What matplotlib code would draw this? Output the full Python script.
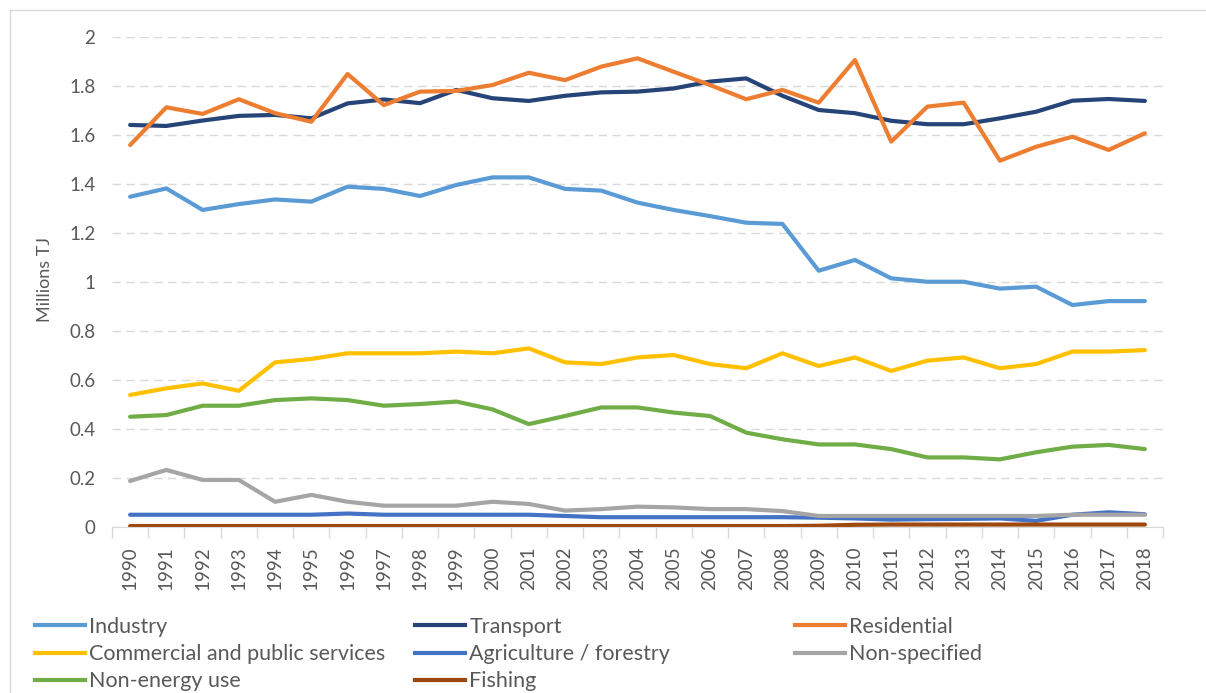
import matplotlib
matplotlib.use("Agg")
import matplotlib.pyplot as plt
from matplotlib.lines import Line2D
import numpy as np

years = list(range(1990, 2019))
industry = [1.348, 1.382, 1.294, 1.318, 1.337, 1.328, 1.389, 1.380, 1.351, 1.396, 1.427, 1.427, 1.380, 1.373,
            1.324, 1.294, 1.269, 1.242, 1.237, 1.046, 1.090, 1.015, 1.001, 1.001, 0.973, 0.981, 0.906, 0.922, 0.922]
transport = [1.641, 1.637, 1.659, 1.678, 1.682, 1.668, 1.729, 1.745, 1.730, 1.784, 1.750, 1.739, 1.760, 1.774,
             1.777, 1.790, 1.818, 1.831, 1.760, 1.702, 1.689, 1.658, 1.644, 1.644, 1.668, 1.695, 1.740, 1.747, 1.739]
residential = [1.559, 1.713, 1.686, 1.746, 1.689, 1.654, 1.849, 1.722, 1.777, 1.780, 1.804, 1.854, 1.824, 1.879,
               1.913, 1.858, 1.804, 1.746, 1.784, 1.732, 1.906, 1.573, 1.716, 1.732, 1.495, 1.552, 1.593, 1.539, 1.607]
commercial = [0.539, 0.566, 0.586, 0.556, 0.672, 0.686, 0.709, 0.709, 0.709, 0.716, 0.709, 0.729, 0.672, 0.665,
              0.692, 0.702, 0.665, 0.648, 0.709, 0.657, 0.692, 0.637, 0.679, 0.692, 0.648, 0.665, 0.716, 0.716, 0.722]
agriculture = [0.050, 0.050, 0.050, 0.050, 0.050, 0.050, 0.055, 0.050, 0.050, 0.050, 0.050, 0.050, 0.045, 0.040,
               0.040, 0.040, 0.040, 0.040, 0.040, 0.038, 0.035, 0.030, 0.032, 0.033, 0.035, 0.025, 0.050, 0.060, 0.052]
nonspecified = [0.188, 0.233, 0.192, 0.192, 0.103, 0.131, 0.103, 0.087, 0.087, 0.087, 0.103, 0.094, 0.067, 0.073,
                0.083, 0.080, 0.073, 0.073, 0.065, 0.045, 0.045, 0.045, 0.045, 0.045, 0.045, 0.045, 0.050, 0.050, 0.050]
nonenergy = [0.450, 0.457, 0.495, 0.495, 0.518, 0.525, 0.518, 0.495, 0.502, 0.512, 0.480, 0.420, 0.453, 0.488,
             0.488, 0.467, 0.453, 0.385, 0.358, 0.337, 0.337, 0.318, 0.284, 0.284, 0.276, 0.305, 0.328, 0.335, 0.318]
fishing = [0.004, 0.004, 0.004, 0.004, 0.004, 0.004, 0.004, 0.004, 0.004, 0.004, 0.004, 0.004, 0.004, 0.004,
           0.004, 0.004, 0.004, 0.004, 0.004, 0.005, 0.009, 0.010, 0.010, 0.010, 0.010, 0.010, 0.010, 0.010, 0.010]

series_names = ["Industry", "Transport", "Residential", "Commercial and public services",
                "Agriculture / forestry", "Non-specified", "Non-energy use", "Fishing"]
series_values = [industry, transport, residential, commercial, agriculture, nonspecified, nonenergy, fishing]
series_colors = ["#5B9BD5", "#264478", "#ED7D31", "#FFC000", "#4472C4", "#A5A5A5", "#70AD47", "#9E480E"]

yticks = [0, 0.2, 0.4, 0.6, 0.8, 1, 1.2, 1.4, 1.6, 1.8, 2]
ytick_labels = ["0", "0.2", "0.4", "0.6", "0.8", "1", "1.2", "1.4", "1.6", "1.8", "2"]

plt.rcParams['font.family'] = ['Lato', 'DejaVu Sans']
text_color = "#595959"

fig = plt.figure(figsize=(12.06, 6.93), dpi=100)
ax = fig.add_axes([112 / 1206, 1 - 527 / 693, (1163 - 112) / 1206, (527 - 37) / 693])

x = np.arange(len(years))
for vals, col in zip(series_values, series_colors):
    ax.plot(x, vals, color=col, lw=3, solid_capstyle='round', solid_joinstyle='round')

ax.set_xlim(-0.5, len(years) - 0.5)
ax.set_ylim(0, 2)
ax.set_yticks(yticks)
ax.set_yticklabels(ytick_labels)
ax.yaxis.grid(True, color="#d9d9d9", lw=1, linestyle=(0, (6, 4)))
ax.set_axisbelow(True)

ax.set_xticks(x)
ax.set_xticklabels([str(y) for y in years], rotation=90)
ax.set_xticks(np.arange(-0.5, len(years), 1), minor=True)
ax.tick_params(axis='x', which='major', length=0, pad=14, labelsize=13.5, labelcolor=text_color)
ax.tick_params(axis='x', which='minor', length=8, color="#d9d9d9", width=1)
ax.tick_params(axis='y', length=0, pad=12, labelsize=13.5, labelcolor=text_color)

for s in ['top', 'right', 'left']:
    ax.spines[s].set_visible(False)
ax.spines['bottom'].set_color("#d9d9d9")

fig.text(45 / 1206, 1 - 280 / 693, "Millions TJ", rotation=90, ha='center', va='center',
         fontsize=13, color=text_color)

# chart border (left and top)
fig.add_artist(Line2D([10 / 1206, 10 / 1206], [0, 1 - 10 / 693], color="#d9d9d9", lw=1))
fig.add_artist(Line2D([10 / 1206, 1], [1 - 10 / 693, 1 - 10 / 693], color="#d9d9d9", lw=1))

# legend: three columns
cols = [[0, 3, 6], [1, 4, 7], [2, 5]]
col_x = [35, 415, 795]
for idxs, cx in zip(cols, col_x):
    handles = [Line2D([], [], color=series_colors[i], lw=3) for i in idxs]
    labels = [series_names[i] for i in idxs]
    fig.legend(handles, labels, loc='upper left', bbox_to_anchor=(cx / 1206, 1 - 617 / 693),
               frameon=False, fontsize=15.5, handlelength=2.33, handletextpad=0.19,
               borderpad=0, borderaxespad=0, labelspacing=0.33, labelcolor=text_color)

fig.savefig("out.png", dpi=100)
